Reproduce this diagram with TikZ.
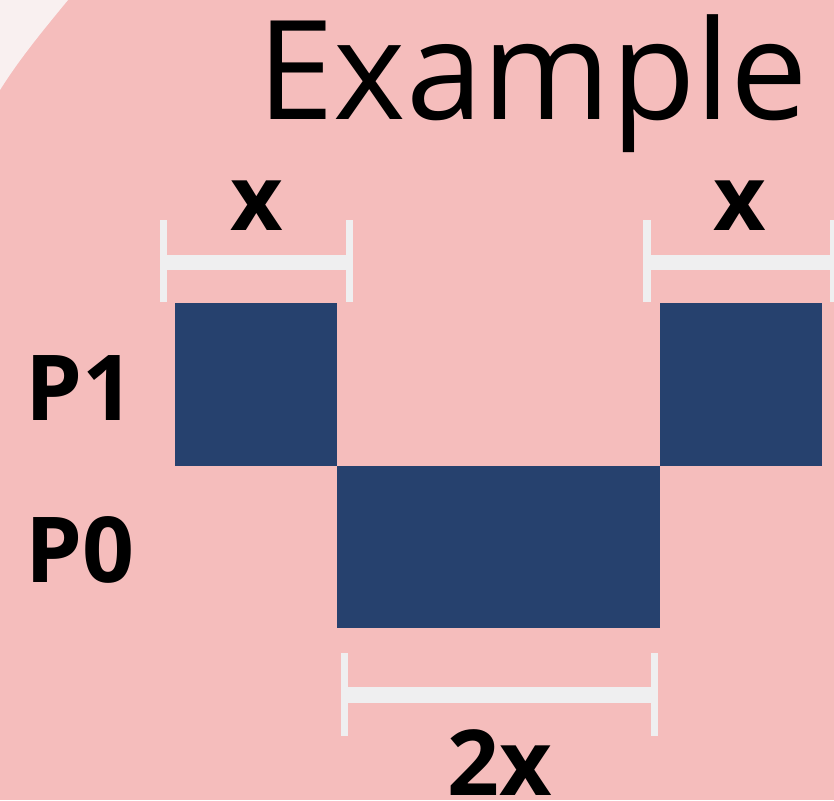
\documentclass[tikz,border=0pt]{standalone}
\usepackage{fontspec}
\setmainfont{Open Sans}
\definecolor{bgpink}{HTML}{F5BDBC}
\definecolor{bglight}{HTML}{F9F0F0}
\definecolor{navy}{HTML}{26416E}
\definecolor{barcol}{HTML}{EFEFF0}
\tikzset{
  blk/.style={fill=navy, draw=none},
  bar/.style={fill=barcol, draw=none},
  lbl/.style={inner sep=0pt, anchor=base, font=\fontsize{91}{91}\selectfont\bfseries},
}
\begin{document}
\begin{tikzpicture}[x=1pt,y=-1pt]
\useasboundingbox (0,0) rectangle (834,800);
\fill[bgpink] (0,0) rectangle (834,800);
\fill[bglight] (0,0) -- (68,0) .. controls (45,28) and (20,58) .. (0,90) -- cycle;
% title
\node[inner sep=0pt, anchor=base west, font=\fontsize{138}{138}\selectfont] (title) at (257,119) {Example};
% blocks
\fill[blk] (175,303) rectangle (337,466);
\fill[blk] (660,303) rectangle (822,466);
\fill[blk] (337,466) rectangle (660,628);
% brackets
\fill[bar] (160,220) rectangle (167,302);
\fill[bar] (346,220) rectangle (353,302);
\fill[bar] (160,255) rectangle (353,270);
\fill[bar] (643,220) rectangle (651,302);
\fill[bar] (830,220) rectangle (838,302);
\fill[bar] (643,255) rectangle (834,270);
\fill[bar] (341,653) rectangle (348,736);
\fill[bar] (651,653) rectangle (658,736);
\fill[bar] (341,687) rectangle (658,703);
% labels
\node[lbl] (xl) at (257,230) {x};
\node[lbl] (xr) at (740,230) {x};
\node[lbl] (tx) at (500,795) {2x};
\node[lbl, anchor=base west] (p1) at (25,420) {P1};
\node[lbl, anchor=base west] (p0) at (25,582) {P0};
\end{tikzpicture}
\end{document}
